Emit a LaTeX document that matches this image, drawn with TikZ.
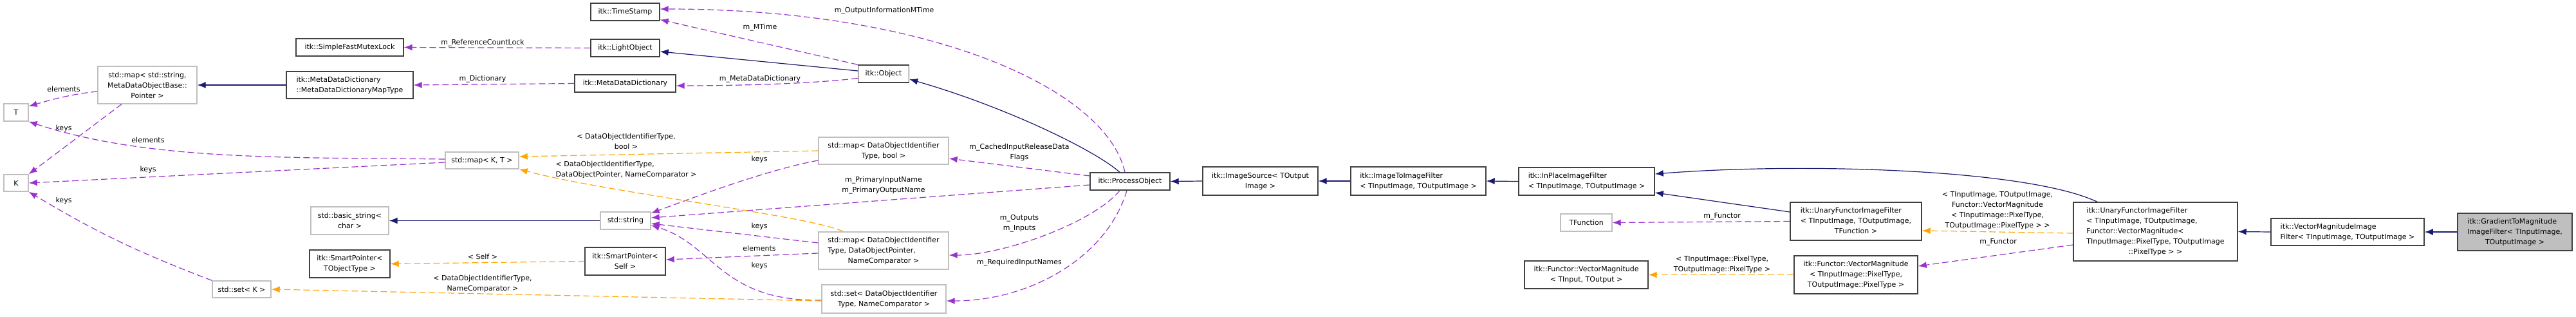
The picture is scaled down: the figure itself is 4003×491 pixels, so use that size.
\documentclass[tikz,border=0pt]{standalone}
\usepackage{fontspec}
\setmainfont{DejaVu Sans}
\usetikzlibrary{arrows.meta}
\definecolor{inhblue}{HTML}{191970}
\definecolor{usepurple}{HTML}{9A32CD}
\definecolor{tplorange}{HTML}{FFA500}
\definecolor{extgray}{HTML}{BFBFBF}
\definecolor{docgray}{HTML}{404040}
\newcommand{\lastline}[1]{\multicolumn{1}{@{}c@{}}{#1}}

\begin{document}
\begin{tikzpicture}[x=1pt,y=-1pt,font=\fontsize{11}{16}\selectfont]
		\tikzset{cls/.style={draw=docgray,line width=1.4pt,fill=white,inner sep=0pt,align=center},
			ext/.style={cls,draw=extgray},
			inh/.style={draw=inhblue,line width=1.2pt,-{Latex[length=13pt,width=10pt]}},
			use/.style={draw=usepurple,line width=1.2pt,dash pattern=on 10pt off 5pt,-{Latex[length=13pt,width=10pt]}},
			tpl/.style={use,draw=tplorange},
			lbl/.style={inner sep=0pt,align=center}};
		\useasboundingbox (0,0) rectangle (4003,491);
		\node[ext,minimum width=154,minimum height=58] (mdmap) at (229,132) {std::map< std::string,\\MetaDataObjectBase::\\Pointer >};
		\node[ext,minimum width=38,minimum height=27] (tT) at (25,174.5) {T};
		\node[ext,minimum width=38,minimum height=26] (tK) at (25,284) {K};
		\node[ext,minimum width=91,minimum height=26] (setk) at (375.5,449) {std::set< K >};
		\node[cls,minimum width=167,minimum height=27] (mutex) at (543.5,73.5) {itk::SimpleFastMutexLock};
		\node[cls,align=left,minimum width=197,minimum height=42] (maptype) at (543.5,132) {itk::MetaDataDictionary\\::MetaDataDictionaryMapType};
		\node[ext,minimum width=121,minimum height=43] (basicstr) at (543.5,342.5) {std::basic\_string<\\char >};
		\node[cls,minimum width=125,minimum height=43] (sptobj) at (543.5,409.5) {itk::SmartPointer<\\TObjectType >};
		\node[ext,minimum width=114,minimum height=26] (mapkt) at (749,249) {std::map< K, T >};
		\node[cls,minimum width=107,minimum height=27] (tstamp) at (971.5,18.5) {itk::TimeStamp};
		\node[cls,minimum width=107,minimum height=27] (lightobj) at (971.5,74.5) {itk::LightObject};
		\node[cls,minimum width=157,minimum height=27] (mddict) at (971.5,129.5) {itk::MetaDataDictionary};
		\node[ext,minimum width=78,minimum height=27] (stdstr) at (972,342.5) {std::string};
		\node[cls,minimum width=125,minimum height=43] (spself) at (971.5,405.5) {itk::SmartPointer<\\Self >};
		\node[cls,minimum width=79,minimum height=27] (object) at (1373,114.5) {itk::Object};
		\node[ext,minimum width=202,minimum height=42] (mapbool) at (1373,234) {std::map< DataObjectIdentifier\\Type, bool >};
		\node[ext,minimum width=202,minimum height=58] (mapptr) at (1373,389) {\begin{tabular}{@{}l@{}}std::map< DataObjectIdentifier\\Type, DataObjectPointer,\\\lastline{NameComparator >}\end{tabular}};
		\node[ext,minimum width=193,minimum height=44] (setdoi) at (1373.5,464) {std::set< DataObjectIdentifier\\Type, NameComparator >};
		\node[cls,minimum width=124,minimum height=27] (procobj) at (1756,281.5) {itk::ProcessObject};
		\node[cls,minimum width=179,minimum height=44] (imgsrc) at (1958.5,281) {itk::ImageSource< TOutput\\Image >};
		\node[cls,align=left,minimum width=210,minimum height=44] (img2img) at (2204,281) {itk::ImageToImageFilter\\< TInputImage, TOutputImage >};
		\node[cls,align=left,minimum width=211,minimum height=43] (inplace) at (2465.5,281.5) {itk::InPlaceImageFilter\\< TInputImage, TOutputImage >};
		\node[ext,minimum width=80,minimum height=27] (tfunc) at (2465,345.5) {TFunction};
		\node[cls,minimum width=192,minimum height=43] (vmfunc) at (2465,426.5) {itk::Functor::VectorMagnitude\\< TInput, TOutput >};
		\node[cls,minimum width=204,minimum height=59] (unaryf) at (2884,343.5) {\begin{tabular}{@{}l@{}}itk::UnaryFunctorImageFilter\\< TInputImage, TOutputImage,\\\lastline{TFunction >}\end{tabular}};
		\node[cls,minimum width=192,minimum height=59] (vmpix) at (2884,426.5) {itk::Functor::VectorMagnitude\\< TInputImage::PixelType,\\TOutputImage::PixelType >};
		\node[cls,minimum width=255,minimum height=91] (unaryvm) at (3349.5,359.5) {\begin{tabular}{@{}l@{}}itk::UnaryFunctorImageFilter\\< TInputImage, TOutputImage,\\Functor::VectorMagnitude<\\TInputImage::PixelType, TOutputImage\\\lastline{::PixelType > >}\end{tabular}};
		\node[cls,align=left,minimum width=238,minimum height=42] (vmimg) at (3648,360) {itk::VectorMagnitudeImage\\Filter< TInputImage, TOutputImage >};
		\node[cls,fill=extgray,minimum width=178,minimum height=58] (gradmag) at (3908,360) {\begin{tabular}{@{}l@{}}itk::GradientToMagnitude\\ImageFilter< TInputImage,\\\lastline{TOutputImage >}\end{tabular}};
		\draw[inh] (maptype.west) -- (mdmap.east);
		\draw[inh] ([yshift=4.5]object.west) -- ([yshift=-5.5]lightobj.east);
		\draw[inh] ([xshift=-16]procobj.north) .. controls (1700,232) and (1560,165) .. ([yshift=-8.5]object.east);
		\draw[inh] (stdstr.west) -- (basicstr.east);
		\draw[inh] (imgsrc.west) -- (procobj.east);
		\draw[inh] (img2img.west) -- (imgsrc.east);
		\draw[inh] (inplace.west) -- (img2img.east);
		\draw[inh] ([xshift=-90.5]unaryvm.north) .. controls (3150,262) and (2800,252) .. ([yshift=11.5]inplace.east);
		\draw[inh] ([yshift=14.5]unaryf.west) -- ([yshift=-17.5]inplace.east);
		\draw[inh] (vmimg.west) -- (unaryvm.east);
		\draw[inh] (gradmag.west) -- (vmimg.east);
		\draw[use] ([yshift=-10]mdmap.west) .. controls (110,146) and (75,156) .. ([yshift=9.5]tT.east);
		\draw[use] ([xshift=-40]mdmap.south) -- (tK.north east);
		\draw[use] ([yshift=2]mapkt.west) .. controls (450,244) and (230,250) .. (tT.south east);
		\draw[use] ([yshift=-3]mapkt.west) -- (tK.east);
		\draw[use] (setk.north west) to[bend left=5] (tK.south east);
		\draw[use] (lightobj.west) -- (mutex.east);
		\draw[use] (object.north west) -- ([yshift=-12]tstamp.east);
		\draw[use] ([xshift=-8]procobj.north) .. controls (1720,140) and (1450,14) .. ([yshift=4.5]tstamp.east);
		\draw[use] ([yshift=-7]object.west) .. controls (1260,130) and (1150,133) .. ([yshift=-3.5]mddict.east);
		\draw[use] (mddict.west) -- (maptype.east);
		\draw[use] ([yshift=8.5]procobj.west) -- ([yshift=-12]mapbool.east);
		\draw[use] ([yshift=-5.5]procobj.west) -- ([yshift=4.5]stdstr.east);
		\draw[use] ([yshift=-15]mapbool.west) .. controls (1200,262) and (1100,298) .. ([yshift=11.5]stdstr.east);
		\draw[use] ([yshift=12]mapptr.west) -- ([yshift=-4.5]stdstr.east);
		\draw[use] ([yshift=-4]mapptr.west) -- ([yshift=2.5]spself.east);
		\draw[use] ([yshift=-2]setdoi.west) .. controls (1120,468) and (1110,380) .. ([yshift=-7]stdstr.east);
		\draw[use] ([xshift=-16]procobj.south) .. controls (1700,345) and (1560,396) .. ([yshift=-7]mapptr.east);
		\draw[use] ([xshift=-5]procobj.south) .. controls (1720,400) and (1600,467) .. ([yshift=-3]setdoi.east);
		\draw[use] (unaryf.west) -- (tfunc.east);
		\draw[use] ([yshift=-20.5]unaryvm.west) -- ([yshift=13.5]vmpix.east);
		\draw[tpl] (mapbool.west) -- ([yshift=6]mapkt.east);
		\draw[tpl] ([xshift=-63]mapptr.north) .. controls (1260,335) and (950,300) .. (mapkt.south east);
		\draw[tpl] (spself.west) -- (sptobj.east);
		\draw[tpl] ([yshift=-3]setdoi.west) -- (setk.east);
		\draw[tpl] ([yshift=-2.5]unaryvm.west) -- ([yshift=-14.5]unaryf.east);
		\draw[tpl] (vmpix.west) -- (vmfunc.east);
		\node[lbl] (labElemT) at (99,138) {elements};
		\node[lbl] (labKeysMd) at (99,199) {keys};
		\node[lbl] (labElemKT) at (230,217) {elements};
		\node[lbl] (labKeysKT) at (230,263) {keys};
		\node[lbl] (labKeysSet) at (99,311) {keys};
		\node[lbl] (labRefLock) at (750,67) {m\_ReferenceCountLock};
		\node[lbl] (labDict) at (750,123) {m\_Dictionary};
		\node[lbl] (labBool) at (973,219) {< DataObjectIdentifierType,\\bool >};
		\node[lbl,align=left] (labPtr) at (973,263) {< DataObjectIdentifierType,\\DataObjectPointer, NameComparator >};
		\node[lbl] (labSelf) at (750,398) {< Self >};
		\node[lbl] (labSetTpl) at (750,440.5) {< DataObjectIdentifierType,\\NameComparator >};
		\node[lbl] (labOutMTime) at (1374,17) {m\_OutputInformationMTime};
		\node[lbl] (labMTime) at (1181,43) {m\_MTime};
		\node[lbl] (labMDD) at (1181,123) {m\_MetaDataDictionary};
		\node[lbl] (labKeysBool) at (1180,247) {keys};
		\node[lbl] (labKeysPtr) at (1180,351) {keys};
		\node[lbl] (labElemPtr) at (1180,385) {elements};
		\node[lbl] (labKeysDoi) at (1180,412) {keys};
		\node[lbl] (labPrimary) at (1373,288) {m\_PrimaryInputName\\m\_PrimaryOutputName};
		\node[lbl] (labCached) at (1584,236) {m\_CachedInputReleaseData\\Flags};
		\node[lbl] (labInOut) at (1584,347) {m\_Outputs\\m\_Inputs};
		\node[lbl] (labReq) at (1584,408) {m\_RequiredInputNames};
		\node[lbl] (labFunctor) at (2676,336) {m\_Functor};
		\node[lbl] (labPixTpl) at (2676,410.5) {< TInputImage::PixelType,\\TOutputImage::PixelType >};
		\node[lbl] (labVMTpl) at (3104,327) {< TInputImage, TOutputImage,\\Functor::VectorMagnitude\\< TInputImage::PixelType,\\TOutputImage::PixelType > >};
		\node[lbl] (labFunctorVM) at (3105,376) {m\_Functor};
	\end{tikzpicture}
\end{document}
